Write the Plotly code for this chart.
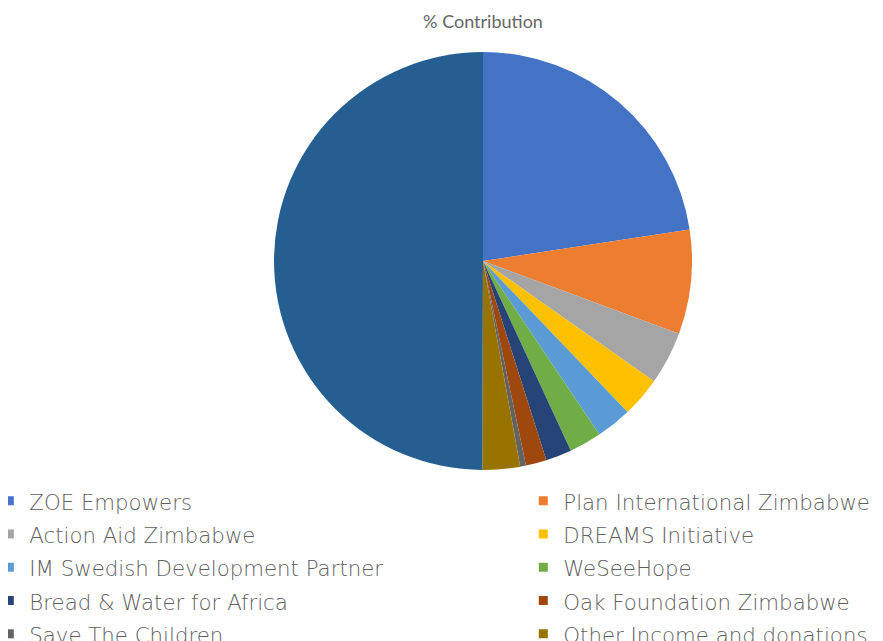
import plotly.graph_objects as go

labels = [
    "ZOE Empowers",
    "Plan International Zimbabwe",
    "Action Aid Zimbabwe",
    "DREAMS Initiative",
    "IM Swedish Development Partner",
    "WeSeeHope",
    "Bread &amp; Water for Africa",
    "Oak Foundation Zimbabwe",
    "Save The Children",
    "Other Income and donations",
    "Main Funding",
]
values = [22.6, 8.05, 4.1, 3.1, 2.75, 2.5, 2.0, 1.6, 0.45, 2.9, 49.95]
colors = ["#4472C4", "#ED7D31", "#A5A5A5", "#FFC000", "#5B9BD5", "#70AD47",
          "#264478", "#9E480E", "#636363", "#997300", "#255E91"]

# page is offset by the 8px body margin
W, H = 875, 633
cx, cy, r = 475, 253, 209

fig = go.Figure()
fig.add_trace(go.Pie(
    labels=labels,
    values=values,
    sort=False,
    direction="clockwise",
    rotation=0,
    textinfo="none",
    hoverinfo="label+percent",
    showlegend=False,
    marker=dict(colors=colors, line=dict(width=0)),
    domain=dict(x=[(cx - r) / W, (cx + r) / W], y=[1 - (cy + r) / H, 1 - (cy - r) / H]),
))

# legend entries (two columns, as in the reference)
for i, (lab, col) in enumerate(zip(labels, colors)):
    fig.add_trace(go.Scatter(
        x=[None], y=[None], mode="markers", name='<span style="font-size:21.3px">%s</span>' % lab,
        marker=dict(symbol="square", size=9, color=col),
        legend="legend" if i % 2 == 0 else "legend2",
        hoverinfo="skip",
    ))

legend_font = dict(family="DejaVu Sans", size=23.3, color="#606060", weight=200)
fig.update_layout(
    width=W, height=H,
    paper_bgcolor="white", plot_bgcolor="white",
    margin=dict(l=0, r=0, t=0, b=0, autoexpand=False),
    xaxis=dict(visible=False), yaxis=dict(visible=False),
    title=dict(text="% Contribution", x=cx / W, xanchor="center", y=1 - 14 / H, yanchor="middle",
               font=dict(family="Lato, Open Sans, sans-serif", size=18, color="#666666")),
    legend=dict(
        orientation="v", x=(22 - 40.7) / W, xanchor="left",
        y=1 - 471 / H, yanchor="top", font=legend_font,
        itemclick=False, itemdoubleclick=False, bgcolor="rgba(0,0,0,0)",
    ),
    legend2=dict(
        orientation="v", x=(556 - 40.7) / W, xanchor="left",
        y=1 - 471 / H, yanchor="top", font=legend_font,
        itemclick=False, itemdoubleclick=False, bgcolor="rgba(0,0,0,0)",
    ),
    showlegend=True,
)

fig.write_html("out.html")
